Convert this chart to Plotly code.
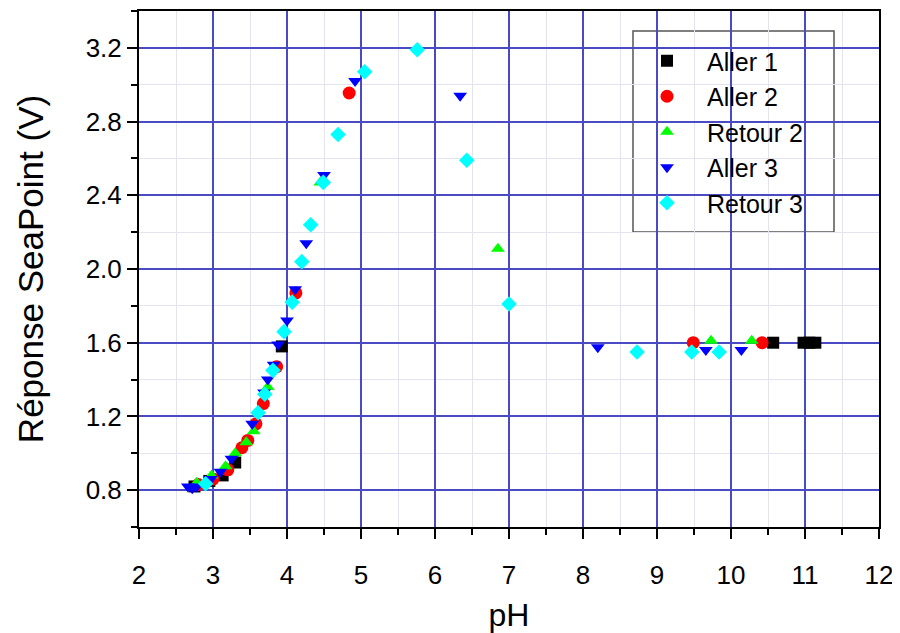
import plotly.graph_objects as go

# ---------------- data ----------------
aller1_ph = [2.75, 2.95, 3.13, 3.30, 3.93, 10.57, 10.98, 11.06, 11.14]
aller1_v = [0.82, 0.85, 0.88, 0.95, 1.58, 1.60, 1.60, 1.60, 1.60]

aller2_ph = [2.80, 3.00, 3.20, 3.39, 3.47, 3.58, 3.68, 3.86, 4.12, 4.84, 9.49, 10.42]
aller2_v = [0.83, 0.86, 0.91, 1.03, 1.07, 1.16, 1.27, 1.47, 1.87, 2.955, 1.60, 1.60]

retour2_ph = [2.78, 2.98, 3.17, 3.30, 3.45, 3.55, 3.74, 4.45, 6.85, 9.73, 10.28]
retour2_v = [0.84, 0.88, 0.93, 1.00, 1.06, 1.12, 1.36, 2.47, 2.11, 1.61, 1.61]

aller3_ph = [2.66, 2.72, 2.78, 2.97, 3.10, 3.25, 3.53, 3.69, 3.74, 3.82, 3.88,
             4.00, 4.11, 4.26, 4.50, 4.92, 6.34, 8.20, 9.66, 10.14]
aller3_v = [0.82, 0.81, 0.82, 0.86, 0.90, 0.97, 1.16, 1.33, 1.40, 1.48, 1.59,
            1.72, 1.89, 2.14, 2.51, 3.02, 2.94, 1.575, 1.56, 1.56]

retour3_ph = [2.90, 3.61, 3.70, 3.81, 3.96, 4.07, 4.20, 4.32, 4.49, 4.69, 5.05,
              5.76, 6.43, 7.00, 8.73, 9.47, 9.84]
retour3_v = [0.835, 1.22, 1.32, 1.45, 1.66, 1.82, 2.04, 2.24, 2.47, 2.73, 3.07,
             3.19, 2.59, 1.81, 1.55, 1.55, 1.55]

series_names = ["Aller 1", "Aller 2", "Retour 2", "Aller 3", "Retour 3"]

x_range = [2, 12]
y_range = [0.6, 3.4]
x_major_ticks = [2, 3, 4, 5, 6, 7, 8, 9, 10, 11, 12]
x_minor_ticks = [2.5, 3.5, 4.5, 5.5, 6.5, 7.5, 8.5, 9.5, 10.5, 11.5]
y_major_ticks = [0.8, 1.2, 1.6, 2.0, 2.4, 2.8, 3.2]
y_major_labels = ["0.8", "1.2", "1.6", "2.0", "2.4", "2.8", "3.2"]
y_minor_ticks = [0.6, 1.0, 1.4, 1.8, 2.2, 2.6, 3.0, 3.4]

# ---------------- figure ----------------
FONT = "Liberation Sans, Arial, sans-serif"
OFF = 8                      # default page margin around the plot div
W, H = 900 - OFF, 633 - OFF
ML, MR, MT, MB = 139 - OFF, 21, 11 - OFF, 106

styles = [
    (aller1_ph, aller1_v, "square", "#000000", 12),
    (aller2_ph, aller2_v, "circle", "#ff0000", 13),
    (retour2_ph, retour2_v, "triangle-up", "#00ff00", 12),
    (aller3_ph, aller3_v, "triangle-down", "#0000ff", 12),
    (retour3_ph, retour3_v, "diamond", "#00ffff", 12),
]

fig = go.Figure()
for name, (xs, ys, sym, col, sz) in zip(series_names, styles):
    fig.add_trace(go.Scatter(
        x=xs, y=ys, mode="markers", name=name,
        marker=dict(symbol=sym, color=col, size=sz, line=dict(width=0)),
    ))

# helpers converting page pixel positions to axis / paper fractions
pw = W - ML - MR
ph = H - MT - MB
left_px, top_px = ML + OFF, MT + OFF
def px_to_x(px):
    return x_range[0] + (px - left_px) / pw * (x_range[1] - x_range[0])
def py_to_y(py):
    return y_range[1] - (py - top_px) / ph * (y_range[1] - y_range[0])

# legend frame (white box with grey border)
fig.add_shape(type="rect", xref="x", yref="y", layer="below",
              x0=px_to_x(633), x1=px_to_x(834), y0=py_to_y(232), y1=py_to_y(31),
              fillcolor="white", line=dict(color="#555555", width=1.5))

axis_common = dict(
    showline=True, linecolor="black", linewidth=2, mirror=True,
    ticks="outside", ticklen=10, tickwidth=2, tickcolor="black",
    showgrid=True, gridcolor="#4a4ac4", gridwidth=1.5,
    zeroline=False,
    tickfont=dict(family=FONT, size=26, color="black"),
)
minor_common = dict(ticks="outside", ticklen=6, tickwidth=2, tickcolor="black",
                    showgrid=True, gridcolor="#e4e4f0", gridwidth=1, tickmode="array")

fig.update_xaxes(
    range=x_range, tickmode="array", tickvals=x_major_ticks, ticklabelstandoff=14,
    minor=dict(tickvals=x_minor_ticks, **minor_common),
    title=dict(text="pH", font=dict(family=FONT, size=32, color="black"), standoff=16),
    **axis_common,
)
fig.update_yaxes(
    range=y_range, tickmode="array", tickvals=y_major_ticks, ticktext=y_major_labels,
    minor=dict(tickvals=y_minor_ticks, **minor_common),
    title=dict(text="Réponse SeaPoint (V)", font=dict(family=FONT, size=35, color="black"), standoff=31),
    **axis_common,
)

fig.update_layout(
    width=W, height=H,
    margin=dict(l=ML, r=MR, t=MT, b=MB, autoexpand=False),
    plot_bgcolor="white", paper_bgcolor="white",
    font=dict(family=FONT, color="black"),
    legend=dict(
        x=(627 - left_px) / pw, y=1 - (38 - top_px) / ph, xanchor="left", yanchor="top",
        bgcolor="rgba(0,0,0,0)", borderwidth=0, itemwidth=70,
        font=dict(family=FONT, size=25, color="black"),
        tracegroupgap=0,
    ),
)

fig.write_html("out.html")
